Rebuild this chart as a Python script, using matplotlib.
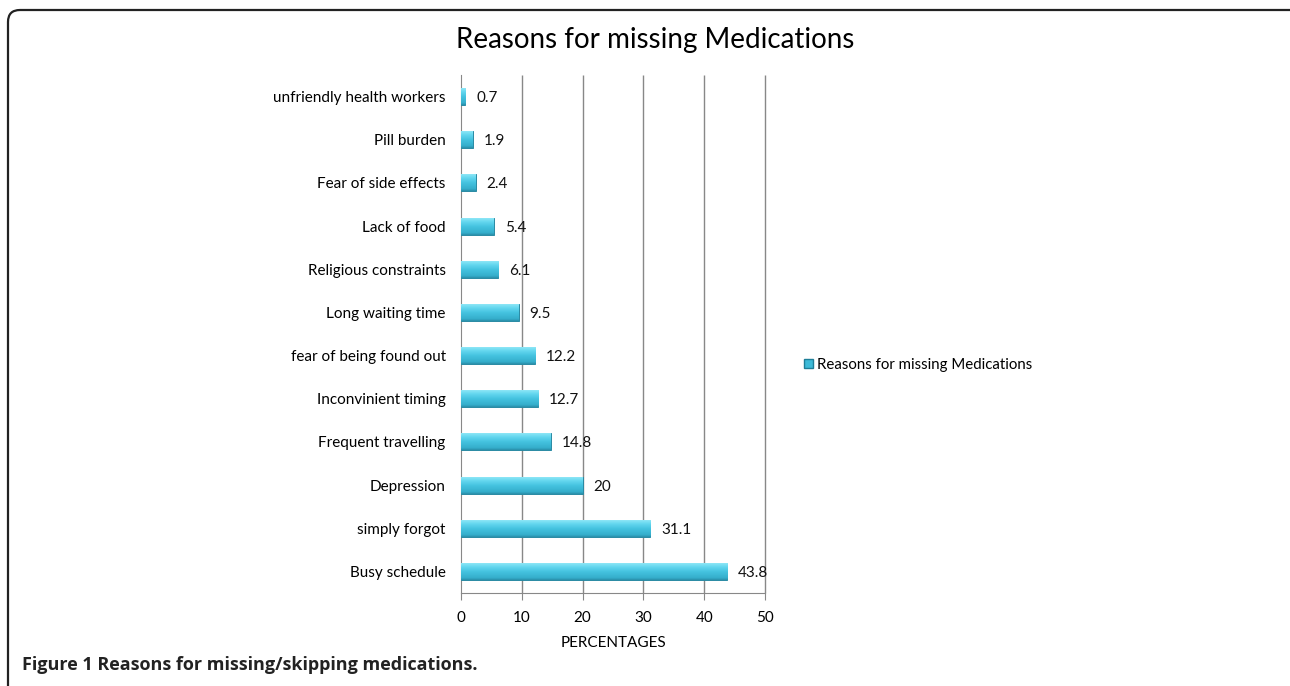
import matplotlib
matplotlib.use("Agg")
import matplotlib.pyplot as plt
from matplotlib.patches import FancyBboxPatch
from matplotlib.transforms import IdentityTransform
from matplotlib.colors import LinearSegmentedColormap
import numpy as np

categories = ["Busy schedule", "simply forgot", "Depression", "Frequent travelling",
              "Inconvinient timing", "fear of being found out", "Long waiting time",
              "Religious constraints", "Lack of food", "Fear of side effects",
              "Pill burden", "unfriendly health workers"]
values = [43.8, 31.1, 20, 14.8, 12.7, 12.2, 9.5, 6.1, 5.4, 2.4, 1.9, 0.7]
value_labels = ["43.8", "31.1", "20", "14.8", "12.7", "12.2", "9.5", "6.1", "5.4", "2.4", "1.9", "0.7"]
xticks = [0, 10, 20, 30, 40, 50]

plt.rcParams['font.family'] = ['Lato', 'DejaVu Sans']

fig = plt.figure(figsize=(12.9, 6.86), dpi=100)
ax = fig.add_axes([461/1290, 1-593/686, (765-461)/1290, (593-75)/686])

y = np.arange(len(categories))
h = 0.39
bars = ax.barh(y, values, height=h, color="#3DBAD8", edgecolor="#2A8AA3",
               linewidth=0.7, zorder=3, label="Reasons for missing Medications")

cmap = LinearSegmentedColormap.from_list(
    "bev", [(0.0, "#2A8FAA"), (0.12, "#35AECB"), (0.5, "#45C3E0"), (0.8, "#66D8F0"), (1.0, "#8EE6F6")])
grad = np.linspace(0, 1, 64).reshape(-1, 1)
for b in bars:
    x0, y0 = b.get_x(), b.get_y()
    w, hh = b.get_width(), b.get_height()
    im = ax.imshow(grad, cmap=cmap, origin="lower", aspect="auto",
                   extent=[x0, x0 + w, y0, y0 + hh], zorder=3.5, interpolation="bilinear")
    im.set_clip_path(b)
ax.set_aspect("auto")

for yi, v, lab in zip(y, values, value_labels):
    ax.text(v + 1.8, yi, lab, va="center_baseline", ha="left", fontsize=11, color="#111111", zorder=5)

ax.set_xlim(0, 50)
ax.set_ylim(-0.5, len(categories) - 0.5)
ax.set_xticks(xticks)
ax.set_xticklabels([str(t) for t in xticks], fontsize=11)
ax.set_yticks(y)
ax.set_yticklabels(categories, fontsize=11)
ax.tick_params(axis="y", length=0, pad=11)
ax.tick_params(axis="x", length=5, color="#888888", pad=8)
ax.vlines(xticks[1:], -0.5, len(categories) - 0.5, color="#888888", linewidth=1, zorder=1, clip_on=False)
for s in ["top", "right"]:
    ax.spines[s].set_visible(False)
ax.spines["left"].set_color("#888888")
ax.spines["bottom"].set_color("#888888")
ax.set_xlabel("PERCENTAGES", fontsize=11, labelpad=8)

fig.text(655/1290, 1-40/686, "Reasons for missing Medications", ha="center", va="center",
         fontsize=20)

handle = plt.Rectangle((0, 0), 1, 1, facecolor="#3DBAD8", edgecolor="#1E7E98")
fig.legend([handle], ["Reasons for missing Medications"], loc="center left",
           bbox_to_anchor=(790/1290, 1-365/686), frameon=False, fontsize=10.8,
           handlelength=0.6, handleheight=0.6, handletextpad=0.3)

fig.text(22/1290, 1-665/686, "Figure 1 Reasons for missing/skipping medications.",
         ha="left", va="center", fontsize=13, fontweight="bold", color="#222222",
         family=["Open Sans", "DejaVu Sans"])

border = FancyBboxPatch((8, -30), 1300, 686 - 10 + 30,
                        boxstyle="round,pad=0,rounding_size=12",
                        transform=IdentityTransform(), fill=False,
                        edgecolor="#222222", linewidth=1.6)
fig.patches.append(border)

fig.savefig("out.png", dpi=100)
